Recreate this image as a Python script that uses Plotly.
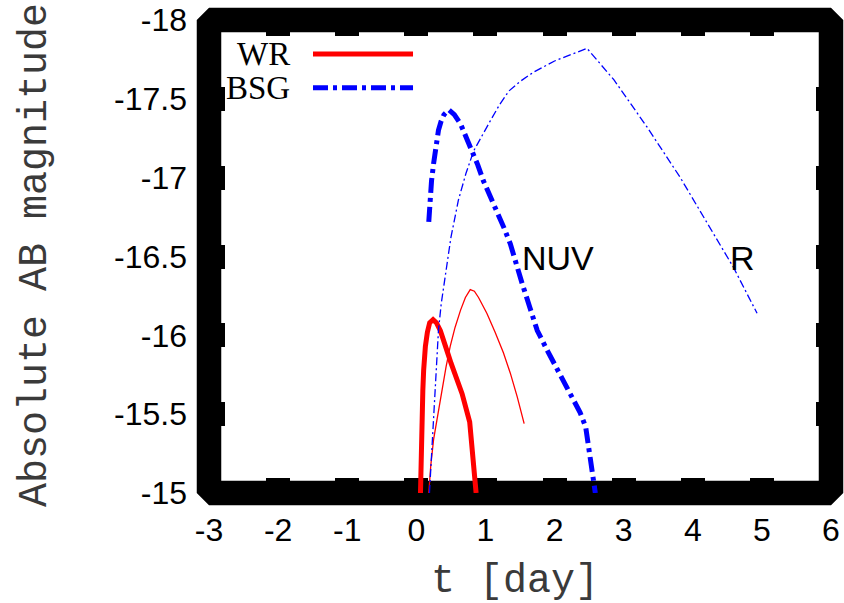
import plotly.graph_objects as go

# Light curves: time since explosion [day] vs absolute AB magnitude
wr_nuv_t = [0.06, 0.064, 0.068, 0.075, 0.083, 0.094, 0.106, 0.118, 0.131, 0.16, 0.193, 0.242, 0.29,
            0.348, 0.40, 0.445, 0.505, 0.565, 0.662, 0.772, 0.80, 0.821, 0.865]
wr_nuv_mag = [-15.0, -15.12, -15.25, -15.38, -15.51, -15.65, -15.78, -15.87, -15.93, -16.02, -16.08,
              -16.10, -16.08, -16.03, -15.97, -15.90, -15.82, -15.75, -15.63, -15.45, -15.33, -15.21, -15.0]

wr_r_t = [0.18, 0.21, 0.25, 0.30, 0.37, 0.43, 0.49, 0.56, 0.64, 0.71, 0.78, 0.84, 0.90, 1.02, 1.14,
          1.26, 1.36, 1.46, 1.56]
wr_r_mag = [-15.0, -15.18, -15.34, -15.47, -15.65, -15.80, -15.93, -16.05, -16.16, -16.24, -16.29,
            -16.28, -16.24, -16.14, -16.02, -15.89, -15.76, -15.61, -15.44]

bsg_nuv_t = [0.18, 0.19, 0.20, 0.22, 0.25, 0.28, 0.32, 0.36, 0.40, 0.47, 0.55, 0.64, 0.72, 0.81, 0.89,
             0.97, 1.07, 1.17, 1.27, 1.36, 1.45, 1.53, 1.64, 1.75, 1.90, 2.04, 2.16, 2.28, 2.37, 2.45,
             2.52, 2.59]
bsg_nuv_mag = [-16.72, -16.80, -16.86, -16.98, -17.09, -17.20, -17.30, -17.36, -17.40, -17.43, -17.40,
               -17.34, -17.26, -17.17, -17.08, -16.98, -16.88, -16.79, -16.68, -16.58, -16.46, -16.33,
               -16.18, -16.03, -15.90, -15.78, -15.69, -15.59, -15.51, -15.42, -15.20, -15.0]

bsg_r_t = [0.19, 0.22, 0.25, 0.28, 0.32, 0.36, 0.40, 0.50, 0.61, 0.72, 0.83, 0.95, 1.07, 1.20, 1.34,
           1.50, 1.70, 2.00, 2.25, 2.47, 2.86, 3.34, 3.82, 4.30, 4.59, 4.93]
bsg_r_mag = [-15.0, -15.25, -15.50, -15.75, -16.03, -16.20, -16.33, -16.62, -16.86, -17.03, -17.17,
             -17.27, -17.36, -17.46, -17.55, -17.61, -17.67, -17.74, -17.78, -17.82, -17.62, -17.32,
             -17.00, -16.65, -16.43, -16.14]

x_tick_vals = [-3, -2, -1, 0, 1, 2, 3, 4, 5, 6]
x_tick_text = ["-3", "-2", "-1", "0", "1", "2", "3", "4", "5", "6"]
y_tick_vals = [-18, -17.5, -17, -16.5, -16, -15.5, -15]
y_tick_text = ["-18", "-17.5", "-17", "-16.5", "-16", "-15.5", "-15"]

legend_names = ["WR", "BSG"]
band_labels = ["NUV", "R"]
band_label_t = [1.5, 4.51]
band_label_mag = -16.49

RED = "#ff0000"
BLUE = "#0000ff"
THICK_DASHDOT = "15px,5px,4px,5px"
THIN_DASHDOT = "8px,3px,2px,3px"

fig = go.Figure()
fig.add_trace(go.Scatter(x=wr_nuv_t, y=wr_nuv_mag, mode="lines",
                         line=dict(color=RED, width=5), name="WR NUV"))
fig.add_trace(go.Scatter(x=wr_r_t, y=wr_r_mag, mode="lines",
                         line=dict(color=RED, width=1.3), name="WR R"))
fig.add_trace(go.Scatter(x=bsg_nuv_t, y=bsg_nuv_mag, mode="lines",
                         line=dict(color=BLUE, width=5, dash=THICK_DASHDOT), name="BSG NUV"))
fig.add_trace(go.Scatter(x=bsg_r_t, y=bsg_r_mag, mode="lines",
                         line=dict(color=BLUE, width=1.3, dash=THIN_DASHDOT), name="BSG R"))

W, H = 844, 603
ml, mr, mt, mb = 209, 13, 20, 110
pw, ph = W - ml - mr, H - mt - mb

# Thick frame around the plot area with bevelled outer corners
hw = 12.25
hx, hy = hw / pw, hw / ph
outer = (f"M {-hx},1 L 0,{1 + hy} L 1,{1 + hy} L {1 + hx},1 L {1 + hx},0 "
         f"L 1,{-hy} L 0,{-hy} L {-hx},0 Z")
inner = f"M {hx},{hy} L {1 - hx},{hy} L {1 - hx},{1 - hy} L {hx},{1 - hy} Z"
fig.add_shape(type="path", xref="paper", yref="paper", path=outer + " " + inner,
              fillcolor="black", fillrule="evenodd", line=dict(width=0), layer="below")

# Key: label text on the left, line sample on the right
key_y = [0.928, 0.857]
key_style = [dict(color=RED, width=5), dict(color=BLUE, width=5, dash=THICK_DASHDOT)]
for name, ky, ls in zip(legend_names, key_y, key_style):
    fig.add_annotation(x=0.1334, y=ky, xref="paper", yref="paper", text=name, showarrow=False,
                       xanchor="right", yanchor="middle",
                       font=dict(family="Liberation Serif", size=33, color="black"))
    fig.add_shape(type="line", xref="paper", yref="paper", x0=0.1672, x1=0.328, y0=ky, y1=ky,
                  line=ls)

for lab, bx in zip(band_labels, band_label_t):
    fig.add_annotation(x=bx, y=band_label_mag, text=lab, showarrow=False, xanchor="left",
                       yanchor="middle",
                       font=dict(family="Liberation Sans", size=34, color="black"))

title_font = dict(family="Liberation Mono", size=40, color="#3a3a3a")
fig.add_annotation(x=0.492, y=-0.188, xref="paper", yref="paper", text="t [day]", showarrow=False,
                   xanchor="center", yanchor="middle", font=title_font)
fig.add_annotation(x=-0.2797, y=0.503, xref="paper", yref="paper", text="Absolute AB magnitude",
                   showarrow=False, textangle=-90, xanchor="center", yanchor="middle",
                   font=title_font)

axis_common = dict(showgrid=False, zeroline=False, showline=False, ticks="inside", ticklen=15.5,
                   tickwidth=24, tickcolor="black", mirror="ticks", layer="below traces",
                   automargin=False,
                   tickfont=dict(family="Liberation Sans", size=32, color="black"))
fig.update_xaxes(range=[-3, 6], tickmode="array", tickvals=x_tick_vals, ticktext=x_tick_text,
                 ticklabelstandoff=15, **axis_common)
fig.update_yaxes(range=[-15, -18], tickmode="array", tickvals=y_tick_vals, ticktext=y_tick_text,
                 ticklabelstandoff=21, **axis_common)

fig.update_layout(width=W, height=H, margin=dict(l=ml, r=mr, t=mt, b=mb, pad=0, autoexpand=False),
                  plot_bgcolor="rgba(0,0,0,0)", paper_bgcolor="white", showlegend=False)

fig.write_html("out.html")
